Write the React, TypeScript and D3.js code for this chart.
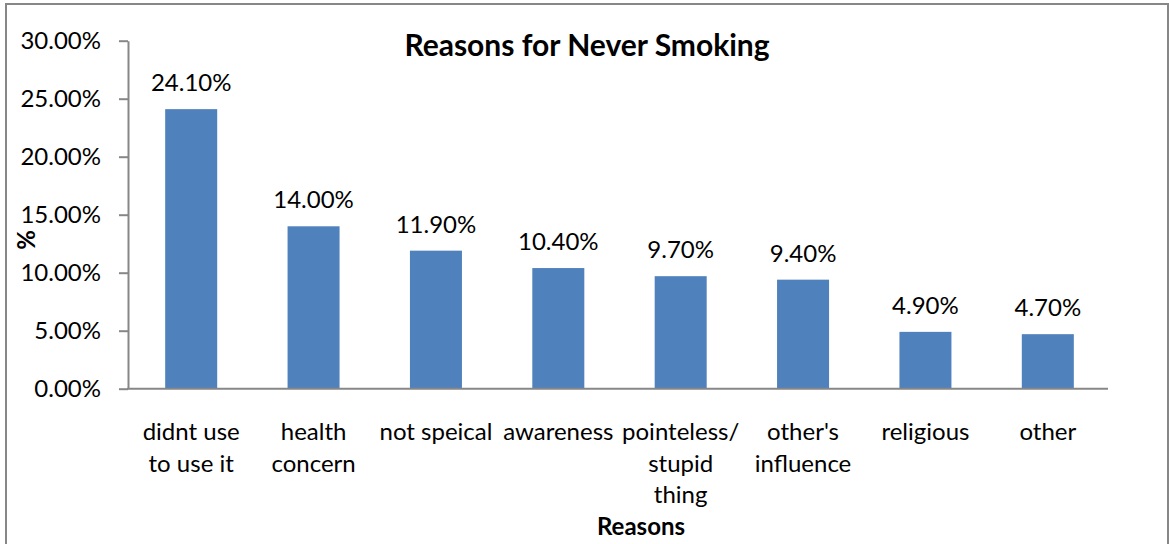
import React, { useEffect, useRef } from "react";
import * as d3 from "d3";

const categories = [
  "didnt use\nto use it",
  "health\nconcern",
  "not speical",
  "awareness",
  "pointeless/\nstupid\nthing",
  "other's\ninfluence",
  "religious",
  "other",
];
const values = [24.1, 14.0, 11.9, 10.4, 9.7, 9.4, 4.9, 4.7];
const yTicks = [0, 5, 10, 15, 20, 25, 30];

const W = 1169;
const H = 544;
const FONT = "Lato, 'Open Sans', sans-serif";

export default function App() {
  const ref = useRef<SVGSVGElement>(null);

  useEffect(() => {
    const svg = d3.select(ref.current);
    svg.selectAll("*").remove();

    const axisX = 128;
    const right = 1108;
    const top = 40.7;
    const bottom = 388.7;

    const x = d3
      .scaleBand<string>()
      .domain(categories)
      .range([130, 1109])
      .paddingInner(0.575)
      .paddingOuter(0.2875);
    const y = d3.scaleLinear().domain([0, 30]).range([bottom, top]);

    // chart frame
    svg
      .append("rect")
      .attr("x", 6)
      .attr("y", 4)
      .attr("width", 1162)
      .attr("height", 560)
      .attr("fill", "#fff")
      .attr("stroke", "#878787")
      .attr("stroke-width", 2);

    // bars
    svg
      .append("g")
      .selectAll("rect")
      .data(values)
      .join("rect")
      .attr("x", (_, i) => x(categories[i])!)
      .attr("y", (d) => y(d))
      .attr("width", x.bandwidth())
      .attr("height", (d) => y(0) - y(d))
      .attr("fill", "#4F81BD");

    // value labels
    svg
      .append("g")
      .selectAll("text")
      .data(values)
      .join("text")
      .attr("x", (_, i) => x(categories[i])! + x.bandwidth() / 2)
      .attr("y", (d) => y(d) - 18)
      .attr("text-anchor", "middle")
      .attr("font-family", FONT)
      .attr("font-size", 24)
      .attr("fill", "#000")
      .text((d) => d.toFixed(2) + "%");

    // y axis
    const yAxis = d3
      .axisLeft(y)
      .tickValues(yTicks)
      .tickSize(9)
      .tickSizeOuter(0)
      .tickPadding(18)
      .tickFormat((d) => (d as number).toFixed(2) + "%");
    const gy = svg.append("g").attr("transform", `translate(${axisX},0)`).call(yAxis);
    gy.selectAll("path,line").attr("stroke", "#878787").attr("stroke-width", 2);
    gy.selectAll("text")
      .attr("font-family", FONT)
      .attr("font-size", 24)
      .attr("fill", "#000");

    // x axis baseline
    svg
      .append("line")
      .attr("x1", axisX - 1)
      .attr("x2", right)
      .attr("y1", y(0))
      .attr("y2", y(0))
      .attr("stroke", "#878787")
      .attr("stroke-width", 2);

    // category labels
    const cat = svg
      .append("g")
      .selectAll("text")
      .data(categories)
      .join("text")
      .attr("text-anchor", "middle")
      .attr("font-family", FONT)
      .attr("font-size", 24)
      .attr("fill", "#000");
    cat.each(function (c) {
      const t = d3.select(this);
      c.split("\n").forEach((line, li) => {
        t.append("tspan")
          .attr("x", x(c)! + x.bandwidth() / 2)
          .attr("y", 440 + li * 31.5)
          .text(line);
      });
    });

    // titles
    svg
      .append("text")
      .attr("x", 587)
      .attr("y", 56)
      .attr("text-anchor", "middle")
      .attr("font-family", FONT)
      .attr("font-size", 30)
      .attr("font-weight", "bold")
      .text("Reasons for Never Smoking");

    svg
      .append("text")
      .attr("x", 641)
      .attr("y", 535)
      .attr("text-anchor", "middle")
      .attr("font-family", FONT)
      .attr("font-size", 24)
      .attr("font-weight", "bold")
      .text("Reasons");

    svg
      .append("text")
      .attr("transform", "translate(35,240) rotate(-90)")
      .attr("text-anchor", "middle")
      .attr("font-family", FONT)
      .attr("font-size", 24)
      .attr("font-weight", "bold")
      .text("%");
  }, []);

  return (
    <div style={{ position: "absolute", left: 0, top: 0 }}>
      <svg ref={ref} width={W} height={H} style={{ display: "block" }} />
    </div>
  );
}
